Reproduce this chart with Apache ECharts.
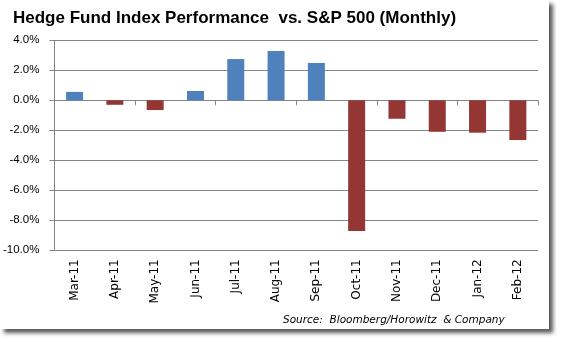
<!DOCTYPE html>
<html><head><meta charset="utf-8">
<script src="https://cdn.jsdelivr.net/npm/echarts@6/dist/echarts.min.js"></script>
<style>
html,body{margin:0;padding:0;background:#fff;width:562px;height:342px;overflow:hidden}
#box{position:absolute;left:0;top:0;width:549px;height:329px;background:#fff;box-shadow:4px 4px 4px rgba(0,0,0,0.65)}
#chart{width:549px;height:329px}
</style></head>
<body><div id="box"><div id="chart"></div></div>
<script>
var categories = ["Mar-11","Apr-11","May-11","Jun-11","Jul-11","Aug-11","Sep-11","Oct-11","Nov-11","Dec-11","Jan-12","Feb-12"];
var values = [0.56, -0.3, -0.65, 0.62, 2.75, 3.29, 2.49, -8.72, -1.23, -2.1, -2.16, -2.65];
var titleText = "Hedge Fund Index Performance  vs. S&P 500 (Monthly)";
var sourceText = "Source:  Bloomberg/Horowitz  & Company";
var posColor = "#4F81BD", negColor = "#943634";

var chart = echarts.init(document.getElementById('chart'));
chart.setOption({
  animation: false,
  title: {text: titleText, left: 8, top: 5,
    textStyle: {fontFamily: 'Liberation Sans', fontWeight: 'bold', fontSize: 17, color: '#000'}},
  graphic: [{type: 'text', left: 283, top: 315,
    style: {text: sourceText, font: 'italic 10.5px "DejaVu Sans"', fill: '#000'}}],
  grid: {left: 50, top: 40.3, right: 11, bottom: 78.7},
  xAxis: [{
    type: 'category', data: categories,
    axisLine: {onZero: true, lineStyle: {color: '#868686'}},
    axisTick: {show: true, length: 5, lineStyle: {color: '#868686'}},
    axisLabel: {show: false}
  }, {
    type: 'category', data: categories, position: 'bottom',
    axisLine: {show: false}, axisTick: {show: false},
    axisLabel: {rotate: 90, margin: 9, fontFamily: 'DejaVu Sans', fontSize: 12, color: '#000'}
  }],
  yAxis: {
    type: 'value', min: -10, max: 4, interval: 2,
    axisLine: {show: true, lineStyle: {color: '#868686'}},
    axisTick: {show: true, length: 5, lineStyle: {color: '#868686'}},
    splitLine: {lineStyle: {color: '#868686'}},
    axisLabel: {formatter: function(v){return v.toFixed(1) + '%';}, margin: 15,
      fontFamily: 'Liberation Sans', fontSize: 11.5, color: '#000'}
  },
  series: [{
    type: 'bar', xAxisIndex: 0, data: values, barWidth: 17,
    itemStyle: {color: function(p){return p.value >= 0 ? posColor : negColor;}}
  }]
});
</script></body></html>
